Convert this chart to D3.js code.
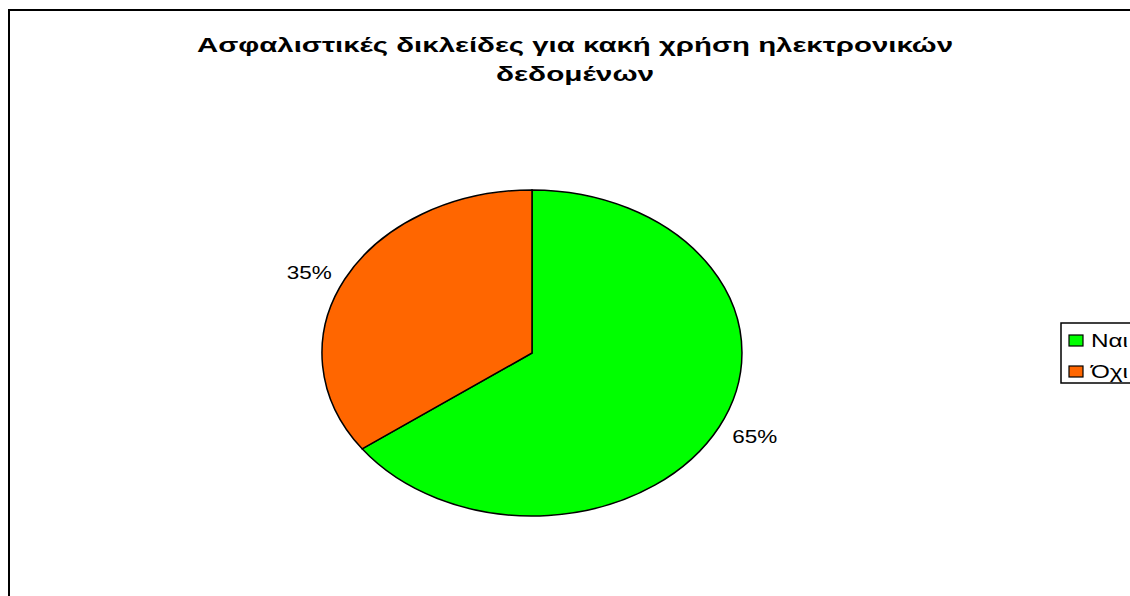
<!DOCTYPE html>
<html>
<head>
<meta charset="utf-8">
<script src="https://cdn.jsdelivr.net/npm/d3@7"></script>
<style>
  body { margin: 0; background: #fff; }
  text { font-family: "Liberation Sans", Arial, sans-serif; }
</style>
</head>
<body>
<div id="chart"></div>
<script>
// chart data
var categories = ["Ναι", "Όχι"];
var values = [65, 35];
var colors = ["#00ff00", "#ff6600"];
var titleLines = ["Ασφαλιστικές δικλείδες για κακή χρήση ηλεκτρονικών", "δεδομένων"];

var svgWidth = 1130;
var svgHeight = 596;

var svg = d3.select("#chart")
  .append("svg")
  .attr("width", svgWidth)
  .attr("height", svgHeight);

// outer chart border (runs off right and bottom)
svg.append("rect")
  .attr("x", 9)
  .attr("y", 10)
  .attr("width", 1140)
  .attr("height", 600)
  .attr("fill", "none")
  .attr("stroke", "#000")
  .attr("stroke-width", 2);

// title, stretched like the original
var titleWidths = [756, 158];
svg.append("g").selectAll("text")
  .data(titleLines)
  .enter()
  .append("text")
  .attr("x", 575)
  .attr("y", (d, i) => 52 + i * 29)
  .attr("text-anchor", "middle")
  .attr("font-family", "'DejaVu Sans', sans-serif")
  .attr("font-size", "21px")
  .attr("font-weight", "bold")
  .attr("textLength", (d, i) => titleWidths[i])
  .attr("lengthAdjust", "spacingAndGlyphs")
  .text(d => d);

// pie (ellipse = unit circle scaled)
var cx = 532, cy = 353, rx = 210, ry = 163;

var pie = d3.pie().sort(null).value(d => d);
var arcs = pie(values);

var arc = d3.arc().innerRadius(0).outerRadius(1);

var pieGroup = svg.append("g")
  .attr("transform", `translate(${cx},${cy}) scale(${rx},${ry})`);

pieGroup.selectAll("path")
  .data(arcs)
  .enter()
  .append("path")
  .attr("d", arc)
  .attr("fill", (d, i) => colors[i])
  .attr("stroke", "#000")
  .attr("stroke-width", 1.5)
  .attr("vector-effect", "non-scaling-stroke");

// percentage labels
svg.append("g").selectAll("text")
  .data(arcs)
  .enter()
  .append("text")
  .attr("x", d => {
    var a = (d.startAngle + d.endAngle) / 2;
    return cx + Math.sin(a) * rx * 1.19;
  })
  .attr("y", d => {
    var a = (d.startAngle + d.endAngle) / 2;
    return cy - Math.cos(a) * ry * 1.11 + 8;
  })
  .attr("text-anchor", "middle")
  .attr("font-size", "19px")
  .attr("textLength", 45)
  .attr("lengthAdjust", "spacingAndGlyphs")
  .text(d => d.value + "%");

// legend
var legend = svg.append("g")
  .attr("transform", "translate(1061,323)");

legend.append("rect")
  .attr("x", 0)
  .attr("y", 0)
  .attr("width", 90)
  .attr("height", 60)
  .attr("fill", "#fff")
  .attr("stroke", "#000")
  .attr("stroke-width", 1.5);

var items = legend.selectAll("g.item")
  .data(categories)
  .enter()
  .append("g")
  .attr("class", "item")
  .attr("transform", (d, i) => `translate(8,${12 + i * 31})`);

items.append("rect")
  .attr("width", 14)
  .attr("height", 11)
  .attr("fill", (d, i) => colors[i])
  .attr("stroke", "#000")
  .attr("stroke-width", 1.2);

items.append("text")
  .attr("x", 22)
  .attr("y", 12)
  .attr("font-size", "19px")
  .attr("textLength", 37)
  .attr("lengthAdjust", "spacingAndGlyphs")
  .text(d => d);
</script>
</body>
</html>
